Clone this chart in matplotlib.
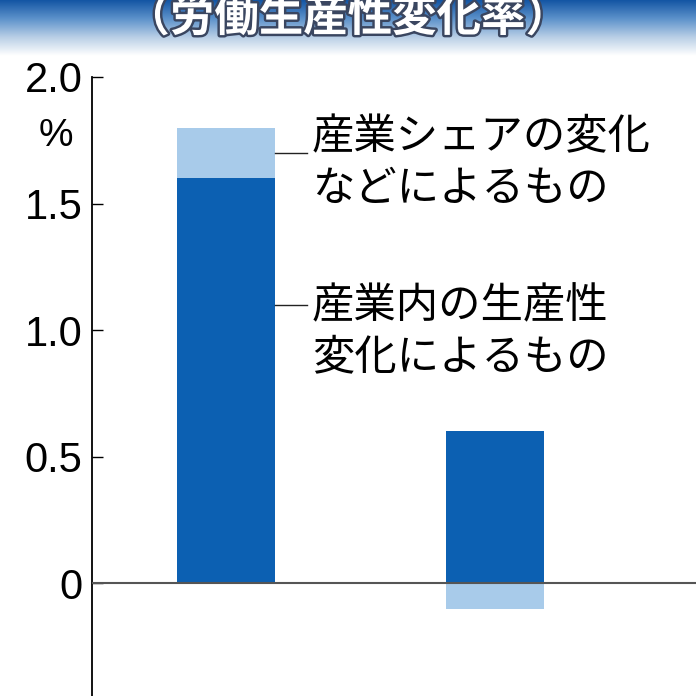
import matplotlib
matplotlib.use("Agg")
import matplotlib.pyplot as plt
import matplotlib.patheffects as pe
from matplotlib.colors import LinearSegmentedColormap
import numpy as np

plt.rcParams['font.family'] = ['Noto Sans CJK JP', 'DejaVu Sans']

# data
categories = ['A', 'B']
within = [1.6, 0.6]        # 産業内の生産性変化によるもの
share = [0.2, -0.1]        # 産業シェアの変化などによるもの
yticks = [-0.5, 0, 0.5, 1.0, 1.5, 2.0]
yticklabels = ['-0.5', '0', '0.5', '1.0', '1.5', '2.0']
title = '（労働生産性変化率）'
label_share = '産業シェアの変化\nなどによるもの'
label_within = '産業内の生産性\n変化によるもの'

dark = '#0c60b2'
light = '#a8cbea'
num_font = ['Liberation Sans Narrow', 'Liberation Sans', 'DejaVu Sans']

fig = plt.figure(figsize=(6.96, 6.96), dpi=100)

# banner with gradient
bax = fig.add_axes([0, 1 - 56 / 696, 1, 56 / 696])
cmap = LinearSegmentedColormap.from_list('ban', ['#1456a4', '#5d92cb', '#b9cfe6', '#ffffff'])
grad = np.linspace(0, 1, 100).reshape(-1, 1)
bax.imshow(grad, aspect='auto', cmap=cmap, extent=[0, 1, 0, 1], origin='upper')
bax.axis('off')
fig.text(0.5, 1 - 18 / 696, title, ha='center', va='center', fontsize=32,
         fontweight='bold', color='white',
         path_effects=[pe.withStroke(linewidth=3.5, foreground='#3a4660')])

ax = fig.add_axes([92 / 696, -14 / 696, 1 - 92 / 696, 633 / 696])
x = np.arange(len(categories))
w = 0.364
ax.bar(x, within, width=w, color=dark, zorder=2)
share_bottom = [v if s > 0 else 0 for v, s in zip(within, share)]
ax.bar(x, share, width=w, bottom=share_bottom, color=light, zorder=2)
ax.axhline(0, color='#555555', lw=1.5, zorder=3)

ax.set_ylim(-0.5, 2.0)
ax.set_xlim(-0.498, 1.747)
ax.set_yticks(yticks)
ax.set_yticklabels(yticklabels, family=num_font)
ax.tick_params(axis='y', direction='in', length=8, width=1, labelsize=30, pad=7)
ax.set_xticks([])
for s in ['top', 'right', 'bottom']:
    ax.spines[s].set_visible(False)
ax.spines['left'].set_linewidth(1.3)

fig.text(56 / 696, 1 - 136 / 696, '%', ha='center', va='center', fontsize=28,
         family=num_font)

# leader lines and labels
edge = x[0] + w / 2
lead_end = 0.30
y1 = within[0] + share[0] / 2
y2 = 1.1
ax.plot([edge, lead_end], [y1, y1], color='#222222', lw=1)
ax.plot([edge, lead_end], [y2, y2], color='#222222', lw=1)
ax.text(0.32, 1.66, label_share, ha='left', va='center', fontsize=30.5,
        linespacing=1.2)
ax.text(0.32, 0.995, label_within, ha='left', va='center', fontsize=30.5,
        linespacing=1.2)

fig.savefig('out.png', dpi=100)
